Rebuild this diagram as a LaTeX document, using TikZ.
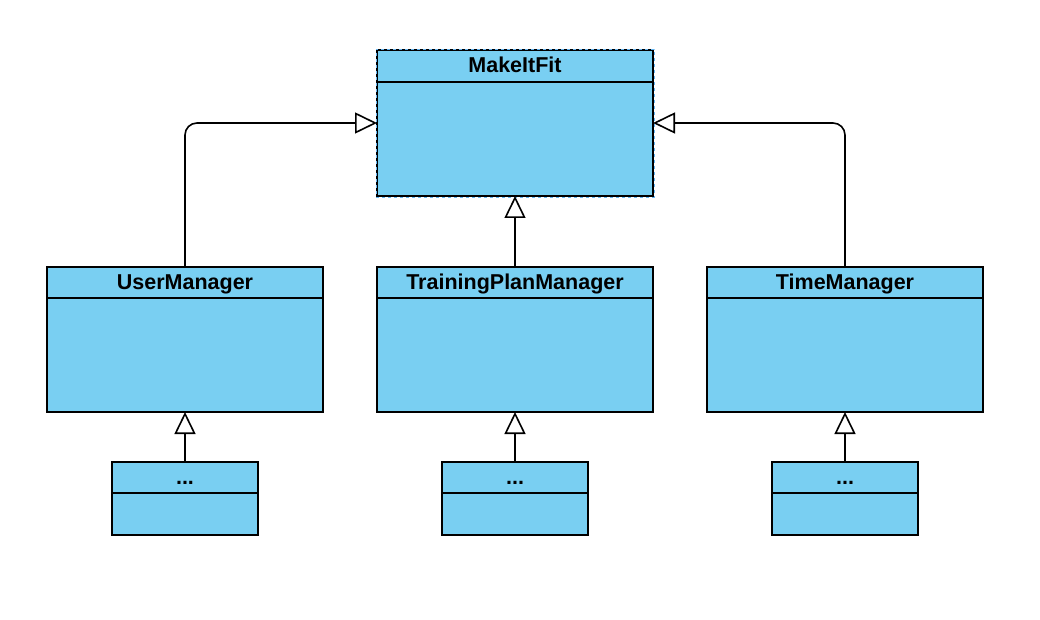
\documentclass[tikz,border=0pt]{standalone}
\usepackage{fontspec}
\setmainfont{Liberation Sans}
\usetikzlibrary{positioning, arrows.meta, fit}

\definecolor{umlblue}{RGB}{121,207,242}
\definecolor{selblue}{RGB}{100,180,240}

\begin{document}
\begin{tikzpicture}[
  x=1pt, y=-1pt,
  head/.style={rectangle, draw, line width=1.6pt, fill=umlblue, minimum width=#1, minimum height=31pt, inner sep=0pt, outer sep=0pt, text height=16pt, text depth=2pt, font=\fontsize{21.5}{24}\selectfont\bfseries},
  body/.style={rectangle, draw, line width=1.6pt, fill=umlblue, minimum width=#1, inner sep=0pt, outer sep=0pt},
  inherit/.style={-{Triangle[open, length=22pt, width=21pt]}, line width=1.6pt, rounded corners=12pt},
  selbox/.style={draw=selblue, dashed, line width=0.8pt, inner sep=1pt, outer sep=-1pt},
  node distance=0pt
]
\useasboundingbox (0,0) rectangle (1040,620);

% ---------- Top class ----------
\node[head=276pt, minimum height=32pt] (mifh) at (515,66) {MakeItFit};
\node[body=276pt, minimum height=114pt, below=of mifh] (mifb) {};
\node[selbox, fit=(mifh) (mifb)] (mif) {};

% ---------- Managers ----------
\node[head=276pt] (umh) at (185,282.5) {UserManager};
\node[body=276pt, minimum height=114pt, below=of umh] (umb) {};
\node[head=276pt] (tph) at (515,282.5) {TrainingPlanManager};
\node[body=276pt, minimum height=114pt, below=of tph] (tpb) {};
\node[head=276pt] (tmh) at (845,282.5) {TimeManager};
\node[body=276pt, minimum height=114pt, below=of tmh] (tmb) {};

% ---------- Subclasses ----------
\node[head=146pt] (umsh) at (185,477.5) {...};
\node[body=146pt, minimum height=42pt, below=of umsh] (umsb) {};
\node[head=146pt] (tpsh) at (515,477.5) {...};
\node[body=146pt, minimum height=42pt, below=of tpsh] (tpsb) {};
\node[head=146pt] (tmsh) at (845,477.5) {...};
\node[body=146pt, minimum height=42pt, below=of tmsh] (tmsb) {};

% ---------- Arrows ----------
\draw[inherit] (umh.north) |- (mif.west);
\draw[inherit] (tmh.north) |- (mif.east);
\draw[inherit] (tph.north) -- (mif.south);
\draw[inherit] (umsh.north) -- (umb.south);
\draw[inherit] (tpsh.north) -- (tpb.south);
\draw[inherit] (tmsh.north) -- (tmb.south);

\end{tikzpicture}
\end{document}
